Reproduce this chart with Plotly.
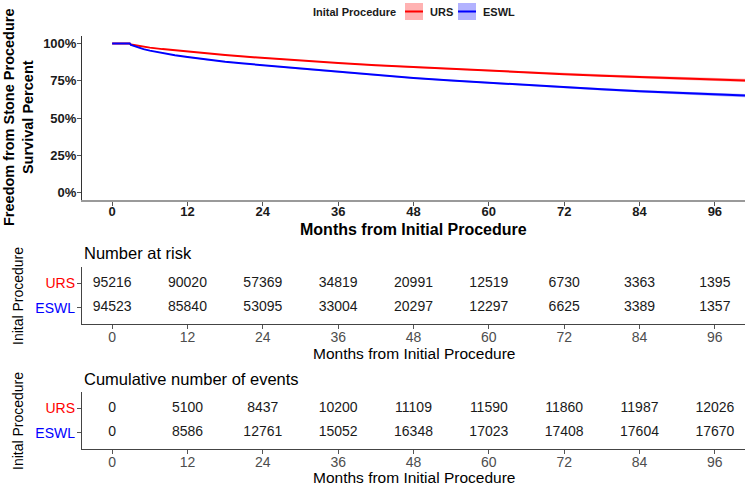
import plotly.graph_objects as go

# ---------------- data ----------------
groups = ["URS", "ESWL"]
months = [0, 2.8, 3, 4, 5, 6, 8, 10, 12, 15, 18, 21, 24, 30, 36, 42, 48,
          54, 60, 66, 72, 78, 84, 90, 96, 101]
urs_surv = [1.0, 1.0, 0.993, 0.985, 0.978, 0.972, 0.962, 0.953, 0.945, 0.933,
            0.922, 0.912, 0.903, 0.885, 0.869, 0.854, 0.841, 0.829, 0.817,
            0.805, 0.794, 0.784, 0.775, 0.767, 0.759, 0.752]
urs_lower = [1.0, 1.0, 0.991, 0.983, 0.976, 0.970, 0.960, 0.951, 0.942, 0.930,
             0.919, 0.909, 0.900, 0.881, 0.865, 0.850, 0.836, 0.824, 0.811,
             0.798, 0.787, 0.776, 0.766, 0.757, 0.749, 0.741]
urs_upper = [1.0, 1.0, 0.995, 0.987, 0.980, 0.974, 0.964, 0.955, 0.948, 0.936,
             0.925, 0.915, 0.906, 0.889, 0.873, 0.858, 0.846, 0.834, 0.823,
             0.812, 0.801, 0.792, 0.784, 0.777, 0.769, 0.763]
eswl_surv = [1.0, 1.0, 0.990, 0.975, 0.962, 0.952, 0.936, 0.921, 0.909, 0.891,
             0.877, 0.865, 0.854, 0.830, 0.808, 0.788, 0.769, 0.752, 0.736,
             0.721, 0.706, 0.692, 0.679, 0.668, 0.658, 0.650]
eswl_lower = [1.0, 1.0, 0.988, 0.973, 0.960, 0.950, 0.934, 0.919, 0.906, 0.888,
              0.874, 0.862, 0.851, 0.826, 0.804, 0.784, 0.764, 0.747, 0.730,
              0.715, 0.699, 0.685, 0.671, 0.659, 0.648, 0.639]
eswl_upper = [1.0, 1.0, 0.992, 0.977, 0.964, 0.954, 0.938, 0.923, 0.912, 0.894,
              0.880, 0.868, 0.857, 0.834, 0.812, 0.792, 0.774, 0.757, 0.742,
              0.727, 0.713, 0.699, 0.687, 0.677, 0.668, 0.661]

risk_times = [0, 12, 24, 36, 48, 60, 72, 84, 96]
urs_at_risk = [95216, 90020, 57369, 34819, 20991, 12519, 6730, 3363, 1395]
eswl_at_risk = [94523, 85840, 53095, 33004, 20297, 12297, 6625, 3389, 1357]
urs_events = [0, 5100, 8437, 10200, 11109, 11590, 11860, 11987, 12026]
eswl_events = [0, 8586, 12761, 15052, 16348, 17023, 17408, 17604, 17670]

y_ticks = [0, 0.25, 0.5, 0.75, 1.0]
y_ticklabels = ["0%", "25%", "50%", "75%", "100%"]

# ---------------- style ----------------
FONT = "Liberation Sans, Arial, sans-serif"
W, H = 750, 485
L, R = 82, 5
line_col = {"URS": "#ff0000", "ESWL": "#0000ff"}
band_col = {"URS": "rgba(255,0,0,0.30)", "ESWL": "rgba(0,0,255,0.30)"}


def py(px):
    return 1 - px / H


def pxp(px):
    return (px - L) / (W - L - R)


fig = go.Figure()

curves = {
    "URS": (urs_surv, urs_lower, urs_upper),
    "ESWL": (eswl_surv, eswl_lower, eswl_upper),
}
for g in groups:
    s, lo, up = curves[g]
    fig.add_trace(go.Scatter(x=months, y=lo, mode="lines", line=dict(width=0),
                             showlegend=False, hoverinfo="skip",
                             xaxis="x", yaxis="y"))
    fig.add_trace(go.Scatter(x=months, y=s, mode="lines", name=g,
                             line=dict(color=line_col[g], width=2),
                             fill="tonexty", fillcolor=band_col[g],
                             showlegend=False, xaxis="x", yaxis="y"))
    fig.add_trace(go.Scatter(x=months, y=up, mode="lines", line=dict(width=0),
                             fill="tonexty", fillcolor=band_col[g],
                             showlegend=False, hoverinfo="skip",
                             xaxis="x", yaxis="y"))

tables = [
    ("x2", "y2", {"URS": urs_at_risk, "ESWL": eswl_at_risk}),
    ("x3", "y3", {"URS": urs_events, "ESWL": eswl_events}),
]
for xa, ya, vals in tables:
    for g in groups:
        fig.add_trace(go.Scatter(
            x=risk_times, y=[g] * len(risk_times), mode="text",
            text=[str(v) for v in vals[g]],
            textfont=dict(family=FONT, size=14, color="#1a1a1a"),
            showlegend=False, hoverinfo="skip", xaxis=xa, yaxis=ya))

xrange = [-4.8, 100.8]
common_x = dict(range=xrange, tickmode="array", tickvals=risk_times,
                ticks="outside", ticklen=4, showgrid=False, zeroline=False,
                showline=True, fixedrange=True)

top_dom = [py(200), py(36)]
t1_dom = [py(324), py(267)]
t2_dom = [py(449), py(392)]

row_ticktext = ['<span style="color:#ff0000">URS</span>',
                '<span style="color:#0000ff">ESWL</span>']

fig.update_layout(
    width=W, height=H,
    margin=dict(l=L, r=R, t=0, b=0),
    paper_bgcolor="white", plot_bgcolor="white",
    font=dict(family=FONT, color="#1a1a1a"),
    showlegend=False,
    xaxis=dict(**common_x, anchor="y", domain=[0, 1],
               linecolor="#9a9a9a", linewidth=2, tickcolor="#555",
               ticklabelstandoff=-6,
               tickfont=dict(family=FONT, size=13, color="#1a1a1a",
                             weight="bold")),
    yaxis=dict(domain=top_dom, anchor="x", range=[-0.05, 1.05],
               tickmode="array", tickvals=y_ticks, ticktext=y_ticklabels,
               ticks="outside", ticklen=4, tickcolor="#555",
               ticklabelstandoff=-2,
               showline=True, linecolor="#333", linewidth=1,
               showgrid=False, zeroline=False, fixedrange=True,
               tickfont=dict(family=FONT, size=13, color="#1a1a1a",
                             weight="bold")),
    xaxis2=dict(**common_x, anchor="y2", domain=[0, 1],
                linecolor="#444", linewidth=1.3, tickcolor="#555",
                ticklabelstandoff=-4,
                tickfont=dict(family=FONT, size=14, color="#4d4d4d")),
    yaxis2=dict(domain=t1_dom, anchor="x2", type="category",
                categoryorder="array", categoryarray=["ESWL", "URS"],
                range=[-0.65, 1.65], tickmode="array", tickvals=groups,
                ticktext=row_ticktext, ticks="outside", ticklen=4,
                ticklabelstandoff=-1,
                tickcolor="#555", showline=True, linecolor="#444",
                linewidth=1.3, showgrid=False, zeroline=False, fixedrange=True,
                tickfont=dict(family=FONT, size=14)),
    xaxis3=dict(**common_x, anchor="y3", domain=[0, 1],
                linecolor="#444", linewidth=1.3, tickcolor="#555",
                ticklabelstandoff=-4,
                tickfont=dict(family=FONT, size=14, color="#4d4d4d")),
    yaxis3=dict(domain=t2_dom, anchor="x3", type="category",
                categoryorder="array", categoryarray=["ESWL", "URS"],
                range=[-0.65, 1.65], tickmode="array", tickvals=groups,
                ticktext=row_ticktext, ticks="outside", ticklen=4,
                ticklabelstandoff=-1,
                tickcolor="#555", showline=True, linecolor="#444",
                linewidth=1.3, showgrid=False, zeroline=False, fixedrange=True,
                tickfont=dict(family=FONT, size=14)),
)

ann = []
shapes = []
# legend (drawn as keys + text)
leg_font = dict(family=FONT, size=11, color="#1a1a1a", weight="bold")
ann.append(dict(text="Inital Procedure", xref="paper", yref="paper",
                x=pxp(398), y=py(12), xanchor="right", yanchor="middle",
                showarrow=False, font=leg_font))
for g, (x0, x1, tx) in zip(groups, [(405, 423, 428), (458, 476, 481)]):
    shapes.append(dict(type="rect", xref="paper", yref="paper",
                       x0=pxp(x0), x1=pxp(x1), y0=py(20), y1=py(3),
                       fillcolor=band_col[g], line=dict(width=0)))
    shapes.append(dict(type="line", xref="paper", yref="paper",
                       x0=pxp(x0), x1=pxp(x1), y0=py(11.5), y1=py(11.5),
                       line=dict(color=line_col[g], width=2)))
    ann.append(dict(text=g, xref="paper", yref="paper", x=pxp(tx), y=py(12),
                    xanchor="left", yanchor="middle", showarrow=False,
                    font=leg_font))
# top plot titles
ann.append(dict(text="<b>Freedom from Stone Procedure<br>Survival Percent</b>",
                xref="paper", yref="paper", x=pxp(18), y=py(117),
                xanchor="center", yanchor="middle", textangle=-90,
                showarrow=False, font=dict(family=FONT, size=14.5,
                                           color="#000")))
ann.append(dict(text="<b>Months from Initial Procedure</b>", xref="paper",
                yref="paper", x=0.5, y=py(229), xanchor="center",
                yanchor="middle", showarrow=False,
                font=dict(family=FONT, size=16, color="#000")))
# tables
for title, ty, xty, yty in [("Number at risk", 253, 353, 296),
                            ("Cumulative number of events", 379, 477, 421)]:
    ann.append(dict(text=title, xref="paper", yref="paper", x=0, y=py(ty),
                    xanchor="left", yanchor="middle", showarrow=False,
                    font=dict(family=FONT, size=16.5, color="#000")))
    ann.append(dict(text="Months from Initial Procedure", xref="paper",
                    yref="paper", x=0.5, y=py(xty), xanchor="center",
                    yanchor="middle", showarrow=False,
                    font=dict(family=FONT, size=15.5, color="#000")))
    ann.append(dict(text="Inital Procedure", xref="paper", yref="paper",
                    x=pxp(18), y=py(yty), xanchor="center", yanchor="middle",
                    textangle=-90, showarrow=False,
                    font=dict(family=FONT, size=14, color="#000")))
fig.update_layout(annotations=ann, shapes=shapes)

fig.write_html("out.html", config={"displayModeBar": False},
               post_script="document.body.style.margin='0';"
                           "document.body.style.overflow='hidden';")
